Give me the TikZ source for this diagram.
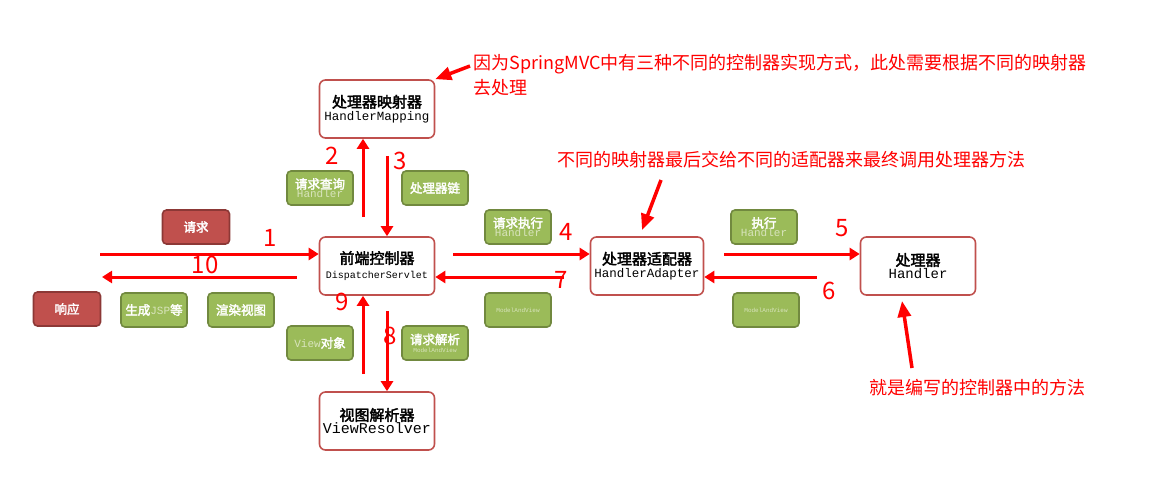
\documentclass[tikz,border=0pt]{standalone}
\usepackage{fontspec}
\setmainfont{Noto Sans CJK SC}[AutoFakeBold=2.5]
\setmonofont{Liberation Mono}
\usetikzlibrary{arrows.meta}
\definecolor{gfill}{HTML}{9BBB59}
\definecolor{gline}{HTML}{71893F}
\definecolor{rfill}{HTML}{C0504D}
\definecolor{rline}{HTML}{8C3836}
\definecolor{mline}{HTML}{C0504D}
\definecolor{ltxt}{HTML}{D8E4BC}
\definecolor{anno}{HTML}{FF0000}
\newcommand\myct{\bfseries\fontsize{15}{17}\selectfont}
\newcommand\mygt{\bfseries\fontsize{12.5}{14}\selectfont}
\tikzset{
 mainbox/.style={draw=mline,line width=1.6pt,fill=white,rounded corners=6pt,minimum width=115pt,minimum height=58pt,align=center,inner sep=1pt},
 gbox/.style={draw=gline,line width=1.6pt,fill=gfill,rounded corners=4pt,minimum width=66pt,minimum height=34pt,align=center,inner sep=1pt,text=white},
 rbox/.style={draw=rline,line width=1.6pt,fill=rfill,rounded corners=4pt,minimum width=67pt,minimum height=34pt,align=center,text=white},
 flow/.style={draw=anno,line width=3pt,-{Triangle[length=10pt,width=12pt]}},
 num/.style={text=anno,font=\fontsize{24}{24}\selectfont},
 note/.style={text=anno,font=\fontsize{18}{25}\selectfont,anchor=west,align=left},
 ptr/.style={draw=anno,line width=3.5pt,-{Triangle[length=16pt,width=13pt]}}
}
\begin{document}
\begin{tikzpicture}[x=1pt,y=-1pt]
\useasboundingbox (0,0) rectangle (1159,480);
\node[mainbox] (hm) at (377,109) {{\myct 处理器映射器}\\[1pt]{\ttfamily\fontsize{12.5}{14}\selectfont HandlerMapping}};
\node[mainbox] (ds) at (377,266) {{\myct 前端控制器}\\[3pt]{\ttfamily\fontsize{10}{12}\selectfont DispatcherServlet}};
\node[mainbox] (vr) at (377,421) {{\myct 视图解析器}\\[0pt]{\ttfamily\fontsize{15}{16}\selectfont ViewResolver}};
\node[mainbox,minimum width=113pt] (ha) at (647,266) {{\myct 处理器适配器}\\[1pt]{\ttfamily\fontsize{12.5}{14}\selectfont HandlerAdapter}};
\node[mainbox] (h) at (918,266) {{\myct 处理器}\\[1pt]{\ttfamily\fontsize{14}{15}\selectfont Handler}};
\node[rbox] (req) at (196,227) {\mygt 请求};
\node[rbox] (resp) at (67,309) {\mygt 响应};
\node[gbox] (jsp) at (154,310) {\mygt 生成{\ttfamily\mdseries\color{ltxt}\fontsize{11}{12}\selectfont JSP}等};
\node[gbox] (render) at (241,310) {\mygt 渲染视图};
\node[gbox] (qh) at (320,188) {{\mygt 请求查询}\\[-3pt]{\ttfamily\color{ltxt}\fontsize{11}{12}\selectfont Handler}};
\node[gbox] (chain) at (435,188) {\mygt 处理器链};
\node[gbox] (vo) at (320,343) {{\ttfamily\color{ltxt}\fontsize{11}{12}\selectfont View}\mygt 对象};
\node[gbox] (rp) at (435,343) {{\mygt 请求解析}\\[-4pt]{\ttfamily\color{ltxt}\fontsize{6}{6}\selectfont ModelAndView}};
\node[gbox] (eh) at (518,227) {{\mygt 请求执行}\\[-3pt]{\ttfamily\color{ltxt}\fontsize{11}{12}\selectfont Handler}};
\node[gbox] (mv1) at (518,310) {{\ttfamily\color{ltxt}\fontsize{6}{6}\selectfont ModelAndView}};
\node[gbox] (ex) at (764,227) {{\mygt 执行}\\[-3pt]{\ttfamily\color{ltxt}\fontsize{11}{12}\selectfont Handler}};
\node[gbox] (mv2) at (766,310) {{\ttfamily\color{ltxt}\fontsize{6}{6}\selectfont ModelAndView}};
% flow arrows
\coordinate (inL) at (100,254);
\coordinate (outL) at (102,277);
\draw[flow] (inL) -- (ds.west |- inL);
\draw[flow] (ds.west |- outL) ++(-22,0) -- (outL);
\draw[flow] ([xshift=-14pt]ds.north) ++(0,-19) -- ([xshift=-14pt]hm.south);
\draw[flow] ([xshift=10pt]hm.south) ++(0,17) -- ([xshift=10pt]ds.north);
\draw[flow] ([xshift=-14pt]vr.north) ++(0,-17) -- ([xshift=-14pt]ds.south);
\draw[flow] ([xshift=10pt]ds.south) ++(0,15) -- ([xshift=10pt]vr.north);
\draw[flow] (ds.east |- inL) ++(18,0) -- (ha.west |- inL);
\draw[flow] (ha.west |- outL) ++(-26,0) -- (ds.east |- outL);
\draw[flow] (ha.east |- inL) ++(20,0) -- (h.west |- inL);
\draw[flow] (h.west |- outL) ++(-43,0) -- (ha.east |- outL);
% numbers
\node[num] at (270,238) {1};
\node[num] at (205,265) {10};
\node[num] at (332,156) {2};
\node[num] at (400,161) {3};
\node[num] at (342,302) {9};
\node[num] at (390,336) {8};
\node[num] at (566,232) {4};
\node[num] at (561,280) {7};
\node[num] at (842,228) {5};
\node[num] at (829,291) {6};
% annotations
\node[note] (n1) at (470,75) {因为SpringMVC中有三种不同的控制器实现方式，此处需要根据不同的映射器\\去处理};
\node[note] (n2) at (554,160) {不同的映射器最后交给不同的适配器来最终调用处理器方法};
\node[note] (n3) at (866,388) {就是编写的控制器中的方法};
\coordinate (p1) at (470,66);
\coordinate (p2) at (661,180);
\coordinate (p3) at (912,368);
\draw[ptr] (p1) -- (hm.north east);
\draw[ptr] (p2) -- (642,230);
\draw[ptr] (p3) -- (902,301);
\end{tikzpicture}
\end{document}
